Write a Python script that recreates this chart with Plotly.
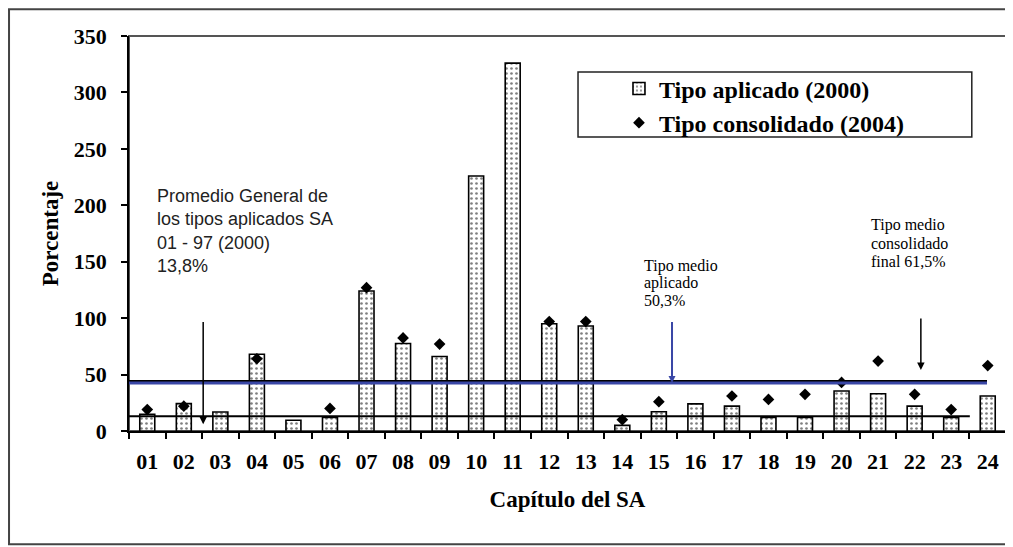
import plotly.graph_objects as go

chapters = ["01", "02", "03", "04", "05", "06", "07", "08", "09", "10", "11", "12",
            "13", "14", "15", "16", "17", "18", "19", "20", "21", "22", "23", "24"]
tipo_aplicado_2000 = [14.8, 24.3, 16.8, 68, 9.5, 12.1, 124, 77.5, 66, 226, 326, 95,
                      93, 5, 17, 24, 22, 12, 12, 35.5, 33, 22, 12, 31]
tipo_consolidado_2004 = [19, 22, None, 64, None, 20, 127, 82.5, 77, None, None, 97,
                         97, 10, 26, None, 31, 28, 32.5, 43, 62, 32.5, 19, 58]

promedio_general = 13.0        # 13,8 % reference line
tipo_medio_aplicado = 42.6     # blue line
tipo_medio_consolidado = 44.3  # black line above the blue one

SERIF = "Liberation Serif, Times New Roman, serif"
SANS = "Liberation Sans, Arial, sans-serif"
BLUE = "#3a47a6"

# the page body has an 8px margin, so the figure is sized to fit the window
W, H = 1005, 539
L, R, T, B = 121, 7, 28, 116.3
PH = H - T - B  # plot height in px


def y_at(page_y):
    """data y for a vertical page pixel (used only for annotation placement)"""
    return (T + 8 + PH - page_y) / PH * 350


fig = go.Figure()
fig.add_trace(go.Bar(
    x=chapters, y=tipo_aplicado_2000, name="Tipo aplicado (2000)",
    width=0.41,
    marker=dict(color="white", line=dict(color="black", width=1.6),
                pattern=dict(shape=".", fgcolor="black", bgcolor="white", size=5, solidity=0.22)),
))
fig.add_trace(go.Scatter(
    x=chapters, y=tipo_consolidado_2004, name="Tipo consolidado (2004)",
    mode="markers",
    marker=dict(symbol="diamond", color="black", size=9),
))

# reference lines
fig.add_shape(type="line", xref="x", yref="y", x0=-0.5, x1=22.98,
              y0=tipo_medio_consolidado, y1=tipo_medio_consolidado,
              line=dict(color="black", width=2))
fig.add_shape(type="line", xref="x", yref="y", x0=-0.5, x1=22.98,
              y0=tipo_medio_aplicado, y1=tipo_medio_aplicado,
              line=dict(color=BLUE, width=3))
fig.add_shape(type="line", xref="x", yref="y", x0=-0.5, x1=22.51,
              y0=promedio_general, y1=promedio_general,
              line=dict(color="black", width=2))

# plot frame (top/right) and outer frame
fig.add_shape(type="rect", xref="paper", yref="paper", x0=0, x1=1, y0=0, y1=1,
              line=dict(color="#555", width=2), layer="below")
fig.add_shape(type="rect", xref="paper", yref="paper", x0=-0.1368, x1=1.1, y0=-0.287, y1=1.068,
              line=dict(color="#444", width=2), layer="below")
# legend box
fig.add_shape(type="rect", xref="paper", yref="paper", x0=0.512, x1=0.961, y0=0.744, y1=0.909,
              line=dict(color="#222", width=1.5), fillcolor="white", layer="below")

# arrows
fig.add_annotation(x=1.53, y=6, ax=1.53, ay=98, xref="x", yref="y", axref="x", ayref="y",
                   text="", showarrow=True, arrowhead=2, arrowsize=1, arrowwidth=1.5, arrowcolor="black")
fig.add_annotation(x=21.17, y=54, ax=21.17, ay=101, xref="x", yref="y", axref="x", ayref="y",
                   text="", showarrow=True, arrowhead=2, arrowsize=1, arrowwidth=1.5, arrowcolor="black")
fig.add_annotation(x=14.36, y=tipo_medio_aplicado, ax=14.36, ay=98, xref="x", yref="y", axref="x", ayref="y",
                   text="", showarrow=True, arrowhead=2, arrowsize=0.7, arrowwidth=2, arrowcolor=BLUE)

# texts
fig.add_annotation(x=0.2, y=219, xref="x", yref="y", xanchor="left", yanchor="top", align="left",
                   showarrow=False,
                   text="Promedio General de<br>los tipos aplicados SA<br>01 - 97 (2000)<br>13,8%",
                   font=dict(family=SANS, size=18, color="#222"))
for i, line in enumerate(["Tipo medio", "aplicado", "50,3%"]):
    fig.add_annotation(x=13.55, y=y_at(266 + 17 * i), xref="x", yref="y",
                       xanchor="left", yanchor="middle", showarrow=False, text=line,
                       font=dict(family=SERIF, size=16, color="black"))
for i, line in enumerate(["Tipo medio", "consolidado", "final 61,5%"]):
    fig.add_annotation(x=19.76, y=y_at(225 + 18 * i), xref="x", yref="y",
                       xanchor="left", yanchor="middle", showarrow=False, text=line,
                       font=dict(family=SERIF, size=16, color="black"))

fig.update_layout(
    width=W, height=H,
    margin=dict(l=L, r=R, t=T, b=B),
    paper_bgcolor="white", plot_bgcolor="white",
    showlegend=True,
    legend=dict(x=0.5587, y=0.923, xanchor="left", yanchor="top",
                bgcolor="rgba(0,0,0,0)", borderwidth=0,
                font=dict(family=SERIF, size=24, color="black", weight="bold")),
    bargap=0.5,
)
fig.update_xaxes(
    type="category", range=[-0.5, 23.5], automargin=False,
    showline=True, linecolor="black", linewidth=1.5,
    ticks="outside", tickson="boundaries", ticklen=6, tickwidth=1.5, tickcolor="black",
    tickfont=dict(family=SERIF, size=22, color="black", weight="bold"),
    ticklabelstandoff=10,
    showgrid=False, zeroline=False,
    title=dict(text="Capítulo del SA", standoff=18,
               font=dict(family=SERIF, size=23, color="black", weight="bold")),
)
fig.update_yaxes(
    range=[0, 350], dtick=50, automargin=False,
    showline=True, linecolor="black", linewidth=1.5,
    ticks="outside", ticklen=6, tickwidth=1.5, tickcolor="black",
    tickfont=dict(family=SERIF, size=22, color="black", weight="bold"),
    ticklabelstandoff=10,
    showgrid=False, zeroline=False,
    title=dict(text="Porcentaje", standoff=9,
               font=dict(family=SERIF, size=23, color="black", weight="bold")),
)

fig.write_html("out.html")
